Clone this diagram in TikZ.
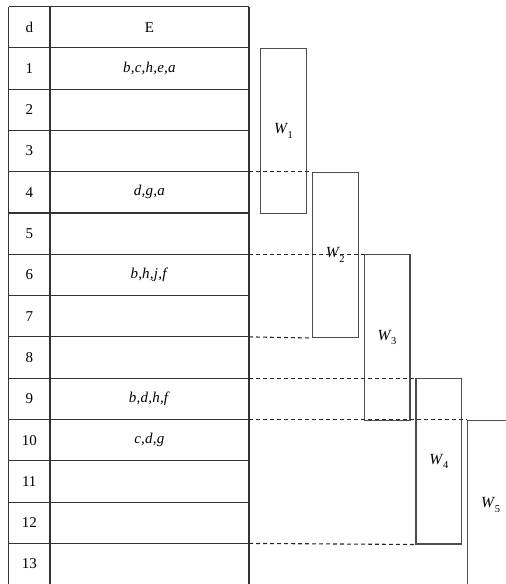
\documentclass[tikz,border=0pt]{standalone}
\usepackage{fontspec}
\setmainfont{Liberation Serif}
\newcommand{\wlab}[1]{\textit{W}\kern-0.5pt\raisebox{-4.5pt}{\fontsize{10.5}{11}\selectfont #1}}
\begin{document}
\begin{tikzpicture}[x=1pt,y=-1pt,
  tabline/.style={draw=black!80,line width=1.1pt},
  cell/.style={font=\fontsize{15}{17}\selectfont,anchor=center,inner sep=0pt},
  wbox/.style={draw=black!70,line width=1.1pt,anchor=north west,
    minimum width=45.8pt,inner sep=0pt,font=\fontsize{15.5}{17}\selectfont},
  guide/.style={draw=black!85,line width=1.1pt,dash pattern=on 4pt off 3pt}]
\useasboundingbox (0,0) rectangle (506,584);
\clip (0,0) rectangle (506,584);

% row boundaries on the right edge of the table
\foreach \k in {0,...,14}
  \coordinate (b\k) at (249,{6.5+41.3*\k});

% table grid
\foreach \k in {0,...,13}
  \draw[tabline] (8.5,{6.5+41.3*\k}) -- (b\k);
\draw[tabline] (8.5,6.5) -- (8.5,590);
\draw[tabline] (50,6.5) -- (50,590);
\draw[tabline] (249,6.5) -- (249,590);

% header
\node[cell] (hd) at (29.25,{6.5+41.3*0.5}) {d};
\node[cell] (he) at (149.5,{6.5+41.3*0.5}) {E};

% row numbers
\foreach \n in {1,...,13}
  \node[cell] (d\n) at (29.25,{6.5+41.3*(\n+0.5)}) {\n};

% entries
\foreach \n/\t in {1/{b,c,h,e,a},4/{d,g,a},6/{b,h,j,f},9/{b,d,h,f},10/{c,d,g}}
  \node[cell] (e\n) at (149.5,{6.5+41.3*(\n+0.5)}) {\textit{\addfontfeatures{LetterSpace=1.5}\t}};

% windows
\node[wbox,minimum height=165.2pt] (W1) at (260.0,{6.5+41.3*1})  {\wlab{1}};
\node[wbox,minimum height=165.2pt] (W2) at (311.8,{6.5+41.3*4})  {\wlab{2}};
\node[wbox,minimum height=165.2pt] (W3) at (363.6,{6.5+41.3*6})  {\wlab{3}};
\node[wbox,minimum height=165.2pt] (W4) at (415.4,{6.5+41.3*9})  {\wlab{4}};
\node[wbox,minimum height=170pt]   (W5) at (467.2,{6.5+41.3*10}) {\wlab{5}};

% dashed guides from the table to the window corners
\draw[guide] (b4)  -- (W2.north west);
\draw[guide] (b6)  -- (W3.north west);
\draw[guide] (b8)  -- (W2.south west);
\draw[guide] (b9)  -- (W4.north west);
\draw[guide] (b10) -- (W5.north west);
\draw[guide] (b13) -- (W4.south west);
\end{tikzpicture}
\end{document}
